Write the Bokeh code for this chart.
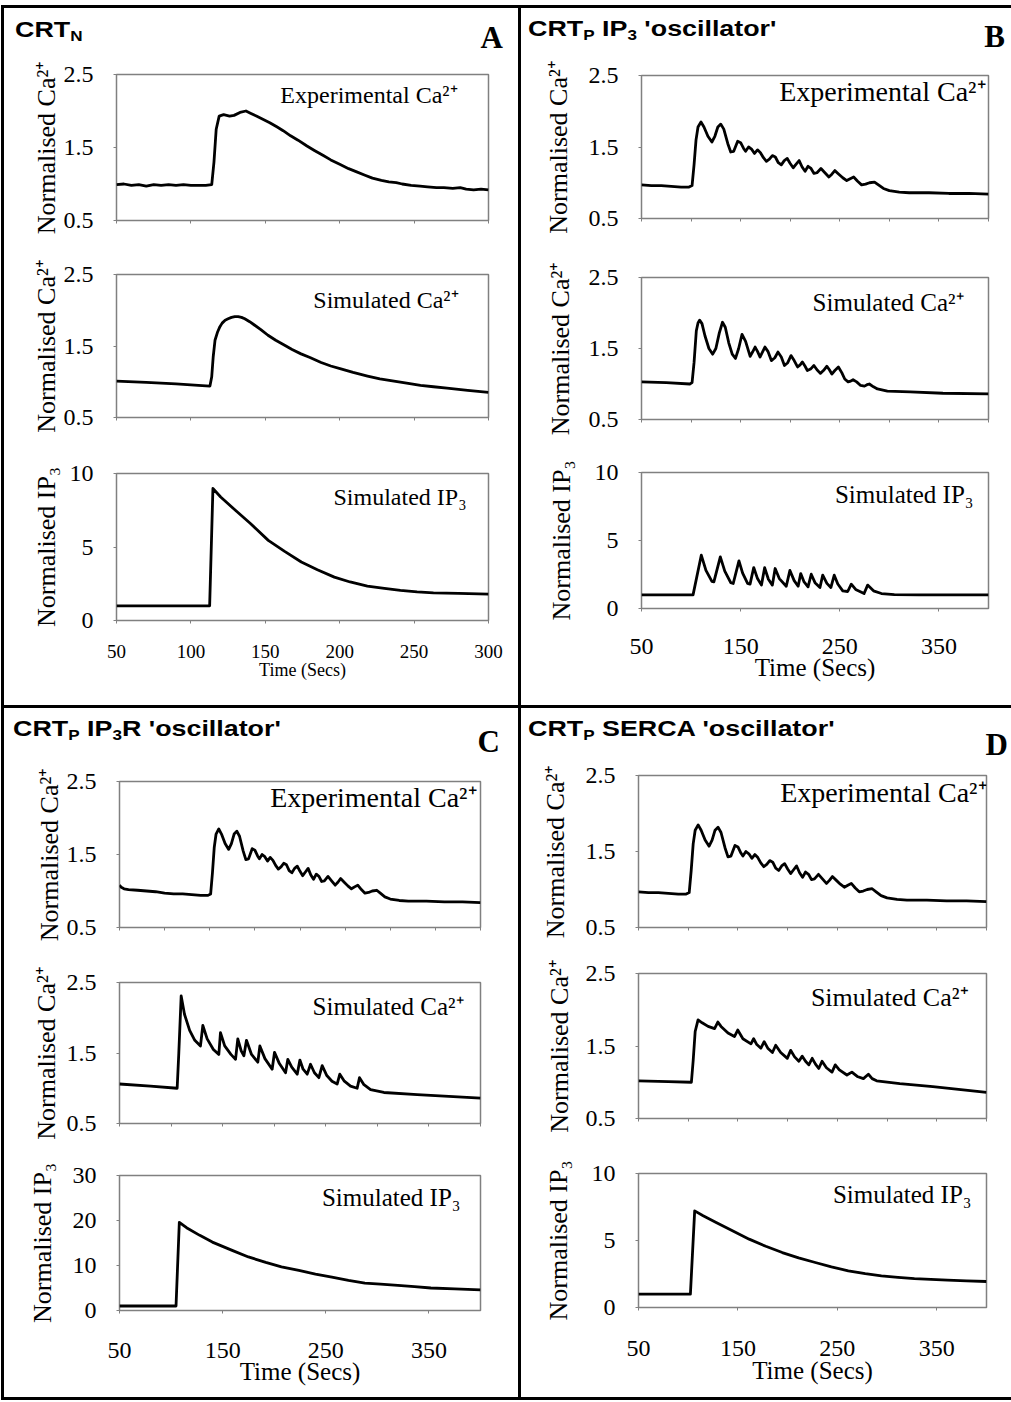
from bokeh.plotting import figure
from bokeh.models import Range1d, FixedTicker, Label, Spacer, Div
from bokeh.layouts import column, row
from bokeh.embed import file_html
from bokeh.resources import INLINE

# ---------------- data ----------------
# Panel A (CRT_N)
tA_exp = [50, 55, 60, 65, 70, 75, 80, 85, 90, 95, 100, 105, 110, 114, 115.5, 117, 119, 122, 126, 129,
          133, 137, 140, 144, 149, 153, 158, 162, 167, 172, 178, 183, 189, 194, 200, 206, 211, 217, 222, 228,
          233, 238, 242, 248, 254, 259, 265, 270, 276, 281, 285, 290, 295, 300]
vA_exp = [0.99, 1.0, 0.98, 0.99, 0.97, 0.99, 0.98, 0.99, 0.98, 0.99, 0.98, 0.98, 0.98, 0.99, 1.3, 1.75, 1.93, 1.95, 1.93, 1.94,
          1.98, 2.0, 1.97, 1.93, 1.88, 1.84, 1.78, 1.73, 1.66, 1.6, 1.52, 1.46, 1.39, 1.33, 1.27, 1.21, 1.17, 1.12, 1.08, 1.05,
          1.03, 1.02, 1.0, 0.98, 0.97, 0.96, 0.95, 0.95, 0.94, 0.95, 0.93, 0.92, 0.93, 0.92]
tA_sim = [50, 70, 90, 105, 112.8, 114, 115, 116.2, 118, 119.5, 121, 123, 125, 127.3, 129.5, 131.8, 134, 136.2, 139.5, 142.9,
          147, 151.8, 157, 163, 168, 174, 180, 187.5, 194, 200.8, 209, 218.7, 227, 236.5, 245, 254.3, 263, 272.1, 286, 300]
vA_sim = [1.01, 0.99, 0.97, 0.95, 0.94, 1.07, 1.35, 1.58, 1.7, 1.77, 1.82, 1.86, 1.88, 1.9, 1.91, 1.91, 1.9, 1.88, 1.84, 1.79,
          1.73, 1.65, 1.58, 1.51, 1.45, 1.39, 1.34, 1.27, 1.22, 1.18, 1.13, 1.08, 1.04, 1.01, 0.98, 0.95, 0.93, 0.91, 0.88, 0.85]
tA_ip3 = [50, 112.6, 114.8, 120, 129.9, 140, 152, 163, 174.2, 185, 196.4, 207, 218.6, 230, 240.8, 252, 263, 280, 300]
vA_ip3 = [1.0, 1.0, 8.98, 8.4, 7.5, 6.6, 5.45, 4.7, 3.98, 3.45, 2.95, 2.62, 2.34, 2.18, 2.05, 1.95, 1.88, 1.84, 1.8]

# Experimental trace used in panels B, C and D
tB_exp = [50, 60, 70, 80, 90, 98, 101, 103, 105, 107, 110, 113, 117, 121, 124, 127, 130, 133, 137, 140,
          143, 147, 150, 153, 155, 158, 161, 164, 167, 170, 173, 176, 179, 182, 185, 188, 191, 194, 197, 200,
          203, 206, 209, 212, 215, 218, 221, 224, 227, 231, 235, 239, 242, 245, 249, 253, 257, 261, 264, 268,
          272, 276, 280, 285, 289, 294, 300, 310, 320, 340, 360, 380, 400]
vB_exp = [0.97, 0.96, 0.96, 0.95, 0.94, 0.94, 0.96, 1.25, 1.6, 1.78, 1.85, 1.78, 1.65, 1.57, 1.65, 1.78, 1.82, 1.75, 1.55, 1.43,
          1.44, 1.58, 1.56, 1.48, 1.44, 1.5, 1.47, 1.41, 1.46, 1.42, 1.35, 1.3, 1.33, 1.38, 1.36, 1.28, 1.25, 1.31, 1.34, 1.27,
          1.21, 1.26, 1.31, 1.22, 1.16, 1.23, 1.2, 1.13, 1.14, 1.2, 1.14, 1.08, 1.12, 1.17, 1.12, 1.07, 1.03, 1.06, 1.08, 1.02,
          0.97, 0.98, 1.0, 1.01, 0.97, 0.92, 0.89, 0.87, 0.86, 0.86, 0.85, 0.85, 0.84]
# Panel C experimental starts at t = 0
tC_pre = [0, 2, 5, 10, 20, 30, 40]
vC_pre = [1.08, 1.05, 1.03, 1.02, 1.01, 1.0, 0.99]

# Panel B (IP3 oscillator)
tB_sim = [50, 75, 98.7, 101, 103, 105.3, 107, 108.6, 111, 114, 118, 121.8, 125, 128.5, 131.7, 134.5, 138, 141.5, 144.8, 148,
          151.4, 155, 159.6, 162, 164.6, 167, 169.5, 172, 174.5, 177.5, 181, 184.5, 187.6, 191, 194.2, 197.5, 200.8, 204, 207.4, 210,
          212.3, 215, 217.3, 220.5, 223.9, 227, 230.4, 233.5, 237, 239.5, 242, 245, 248.6, 252, 255, 258.4, 261, 263.4, 267, 271,
          274.9, 277.5, 279.8, 284, 288, 298, 321, 354, 400]
vB_sim = [1.03, 1.02, 1.0, 1.02, 1.3, 1.75, 1.86, 1.9, 1.85, 1.68, 1.5, 1.42, 1.5, 1.72, 1.87, 1.8, 1.58, 1.42, 1.36, 1.5,
          1.7, 1.6, 1.39, 1.45, 1.52, 1.46, 1.38, 1.45, 1.52, 1.46, 1.33, 1.37, 1.45, 1.38, 1.26, 1.3, 1.4, 1.33, 1.24, 1.27,
          1.31, 1.25, 1.19, 1.21, 1.26, 1.2, 1.15, 1.19, 1.25, 1.2, 1.14, 1.19, 1.24, 1.16, 1.07, 1.03, 1.04, 1.06, 1.03, 0.98,
          0.97, 0.99, 1.0, 0.96, 0.93, 0.9, 0.89, 0.87, 0.86]
tB_ip3 = [50, 102, 110.3, 115, 121, 123, 129.5, 134, 140, 142.5, 148.3, 152, 157, 159.5, 163.2, 167, 171, 174.2, 178, 182,
          184.8, 189, 196, 199.7, 204, 208, 210.6, 214, 218, 221.2, 225, 230, 232.8, 237, 241, 244.4, 248, 253, 258, 261.6,
          266, 274.5, 278.1, 284, 292, 305, 330, 400]
vB_ip3 = [1.0, 1.0, 3.92, 2.8, 2.0, 1.96, 3.8, 2.75, 1.9, 1.84, 3.5, 2.6, 1.85, 1.79, 3.01, 2.2, 1.72, 3.0, 2.15, 1.72,
          2.94, 2.2, 1.64, 2.8, 2.05, 1.64, 2.57, 1.95, 1.59, 2.52, 1.9, 1.54, 2.45, 1.85, 1.54, 2.45, 1.8, 1.3, 1.25, 1.79,
          1.4, 1.1, 1.72, 1.3, 1.1, 1.02, 1.0, 1.0]

# Panel C (IP3R oscillator)
tC_sim = [50, 80, 105.9, 107.5, 109.8, 113, 118, 123, 128.5, 130.8, 135, 141, 146.3, 147.9, 152, 158, 162.5, 164.7, 168, 170.6,
          173.1, 178, 184.1, 186.1, 191, 198, 200.3, 205, 211, 213.2, 217, 222.3, 224.9, 228, 232, 235.2, 239, 243.3, 246.5, 251,
          256, 261, 263.6, 268, 274, 280.4, 282.7, 287, 293.4, 306.3, 338.6, 400]
vC_sim = [1.06, 1.03, 1.0, 1.5, 2.31, 2.05, 1.82, 1.68, 1.6, 1.89, 1.7, 1.55, 1.48, 1.79, 1.6, 1.48, 1.41, 1.7, 1.53, 1.46,
          1.68, 1.48, 1.37, 1.6, 1.42, 1.27, 1.51, 1.35, 1.22, 1.41, 1.3, 1.2, 1.4, 1.27, 1.2, 1.34, 1.22, 1.15, 1.32, 1.18,
          1.1, 1.06, 1.2, 1.1, 1.03, 1.0, 1.15, 1.05, 0.98, 0.94, 0.91, 0.86]
tC_ip3 = [50, 104.8, 108, 115, 127.8, 140, 159.8, 175, 191.8, 207, 223.9, 240, 255.9, 272, 287.9, 303, 319.9, 336, 351.9, 375, 400]
vC_ip3 = [1.0, 1.0, 19.6, 18.4, 16.7, 15.2, 13.3, 11.9, 10.7, 9.7, 8.9, 8.1, 7.4, 6.7, 6.1, 5.85, 5.6, 5.3, 5.0, 4.8, 4.6]

# Panel D (SERCA oscillator)
tD_sim = [50, 80, 103.2, 105, 107, 109.9, 114, 120, 126.5, 129.8, 133, 140, 146.5, 149.8, 155, 163.1, 165.8, 169, 173.1, 176.4,
          180, 184.7, 188, 193, 199.7, 203, 207, 211.3, 214.7, 218, 221.3, 224.7, 228, 231.3, 234.6, 239, 244.6, 247.9, 252, 259.6,
          264.6, 270, 276.2, 281.2, 285, 289.5, 312.8, 346, 400]
vD_sim = [1.02, 1.01, 1.0, 1.3, 1.7, 1.86, 1.82, 1.77, 1.74, 1.83, 1.77, 1.68, 1.63, 1.72, 1.6, 1.53, 1.6, 1.52, 1.47, 1.56,
          1.47, 1.41, 1.51, 1.41, 1.33, 1.44, 1.35, 1.29, 1.36, 1.29, 1.24, 1.33, 1.25, 1.19, 1.29, 1.2, 1.14, 1.24, 1.17, 1.1,
          1.14, 1.08, 1.05, 1.11, 1.05, 1.02, 0.98, 0.94, 0.86]
tD_ip3 = [50, 102.2, 106.5, 115, 128.1, 145, 161.3, 178, 194.6, 211, 227.8, 244, 261, 278, 294.3, 311, 327.5, 344, 360.7, 380, 400]
vD_ip3 = [1.0, 1.0, 7.21, 6.85, 6.34, 5.7, 5.1, 4.57, 4.1, 3.7, 3.36, 3.03, 2.74, 2.53, 2.36, 2.25, 2.16, 2.1, 2.04, 1.99, 1.94]

# ticks
ca_ticks = [0.5, 1.5, 2.5]
ip_ticks = [0, 5, 10]
ip_ticks_c = [0, 10, 20, 30]
xA_ticks = [50, 100, 150, 200, 250, 300]
x_ticks_50 = [50, 100, 150, 200, 250, 300, 350, 400]
xC_top_ticks = [0, 50, 100, 150, 200, 250, 300, 350, 400]
x_ticks_bottom = [50, 150, 250, 350]

# ---------------- styling ----------------
SERIF = "Liberation Serif"
SANS = "Liberation Sans"
GRAY = "#808080"
CA_LABEL = "Normalised Ca\u00b2\u207a"
IP_LABEL = "Normalised IP\u2083"
EXP_NOTE = "Experimental Ca\u00b2\u207a"
SIM_NOTE = "Simulated Ca\u00b2\u207a"
IP_NOTE = "Simulated IP\u2083"


def make_plot(box, frame, xr, yr, xticks, yticks, t, v, ylab, ylab_standoff,
              note, note_size, note_dx, note_dy, bottom=None):
    x0, y0, w, h = box
    L, T, R, B = frame
    p = figure(width=w, height=h, x_range=Range1d(*xr), y_range=Range1d(*yr),
               output_backend="svg", toolbar_location=None, title=None,
               min_border_left=L - x0, min_border_right=x0 + w - R,
               min_border_top=T - y0, min_border_bottom=y0 + h - B)
    p.background_fill_color = "white"
    p.border_fill_color = "white"
    p.outline_line_color = GRAY
    p.outline_line_width = 1.5
    p.xgrid.visible = False
    p.ygrid.visible = False
    p.line(t, v, line_color="black", line_width=2.8, line_join="round")

    ya = p.yaxis[0]
    ya.ticker = FixedTicker(ticks=yticks)
    ya.axis_line_color = None
    ya.major_tick_line_color = GRAY
    ya.major_tick_out = 3
    ya.major_tick_in = 0
    ya.minor_tick_line_color = None
    ya.major_label_standoff = 20
    ya.major_label_text_font = SERIF
    ya.major_label_text_font_size = "24px"
    ya.major_label_text_color = "black"
    ya.axis_label = ylab
    ya.axis_label_text_font = SERIF
    ya.axis_label_text_font_size = "26px"
    ya.axis_label_text_font_style = "normal"
    ya.axis_label_text_color = "black"
    ya.axis_label_standoff = ylab_standoff

    xa = p.xaxis[0]
    xa.ticker = FixedTicker(ticks=xticks)
    xa.axis_line_color = None
    xa.major_tick_line_color = GRAY
    xa.major_tick_out = 3
    xa.major_tick_in = 0
    xa.minor_tick_line_color = None
    if bottom is None:
        xa.major_label_overrides = {k: "" for k in xticks}
        xa.major_label_text_font_size = "8px"
        xa.major_label_standoff = 0
    else:
        xa.major_label_text_font = SERIF
        xa.major_label_text_font_size = f"{bottom['tick_size']}px"
        xa.major_label_text_color = "black"
        xa.major_label_standoff = bottom["tick_standoff"]
        xa.axis_label = "Time (Secs)"
        xa.axis_label_text_font = SERIF
        xa.axis_label_text_font_size = f"{bottom['label_size']}px"
        xa.axis_label_text_font_style = "normal"
        xa.axis_label_text_color = "black"
        xa.axis_label_standoff = bottom["label_standoff"]

    p.add_layout(Label(x=xr[1], y=yr[1], x_offset=-note_dx, y_offset=-note_dy, text=note,
                       text_align="right", text_baseline="alphabetic", text_font=SERIF,
                       text_font_size=f"{note_size}px", text_color="black"))
    return p


def title_div(w, h, left, top, html, letter, right, ltop):
    title = ("<div style=\"position:absolute;left:%dpx;top:%dpx;font-family:'Liberation Sans';"
             "font-weight:bold;font-size:22px;line-height:22px;white-space:nowrap;color:#000;"
             "transform:scaleX(1.22);transform-origin:0 0;\">%s</div>") % (left, top, html)
    let = ("<div style=\"position:absolute;right:%dpx;top:%dpx;font-family:'Liberation Serif';"
           "font-weight:bold;font-size:31px;line-height:31px;white-space:nowrap;color:#000;\">%s</div>") % (right, ltop, letter)
    body = "<div style=\"position:relative;width:%dpx;height:%dpx;background:#fff;overflow:hidden;\">%s%s</div>" % (w, h, title, let)
    return Div(text=body, width=w, height=h, margin=0, styles={"background-color": "white"})


SUB = "<span style=\"font-size:14px;vertical-align:-4px;\">%s</span>"

# ---------------- panel A ----------------
xrA = (50, 300)
tA = title_div(514, 50, 11, 11, "CRT" + SUB % "N", "A", 15, 14)
pA1 = make_plot((4, 58, 514, 189), (116, 74, 489, 220), xrA, (0.5, 2.5), xA_ticks, ca_ticks, tA_exp, vA_exp,
                CA_LABEL, 0, EXP_NOTE, 24, 31, 20)
pA2 = make_plot((4, 247, 514, 198), (114, 274, 488, 417), xrA, (0.5, 2.5), xA_ticks, ca_ticks,
                tA_sim, vA_sim, CA_LABEL, 0, SIM_NOTE, 24, 30, 25)
pA3 = make_plot((4, 445, 514, 260), (113, 473, 489, 620), xrA, (0, 10), xA_ticks, ip_ticks,
                tA_ip3, vA_ip3, IP_LABEL, 6, IP_NOTE, 24, 22, 23,
                bottom=dict(tick_size=19, tick_standoff=21, label_size=18, label_standoff=-1))

# ---------------- panel B ----------------
xrB = (50, 400)
tB = title_div(490, 50, 7, 10, "CRT" + SUB % "P" + " IP" + SUB % "3" + " 'oscillator'", "B", 6, 13)
pB1 = make_plot((521, 58, 490, 190), (638, 75, 993, 218), xrB, (0.5, 2.5), x_ticks_50, ca_ticks, tB_exp, vB_exp,
                CA_LABEL, 13, EXP_NOTE, 28, 3, 16)
pB2 = make_plot((521, 248, 490, 197), (641, 277, 995, 419), xrB, (0.5, 2.5), x_ticks_50, ca_ticks,
                tB_sim, vB_sim, CA_LABEL, 11, SIM_NOTE, 25, 25, 25)
pB3 = make_plot((521, 445, 490, 260), (636, 472, 988, 608), xrB, (0, 10), x_ticks_bottom, ip_ticks,
                tB_ip3, vB_ip3, IP_LABEL, 16, IP_NOTE, 25, 15, 22,
                bottom=dict(tick_size=24, tick_standoff=27, label_size=25, label_standoff=-3))

# ---------------- panel C ----------------
xrC0 = (0, 400)
tC = title_div(514, 54, 9, 10, "CRT" + SUB % "P" + " IP" + SUB % "3" + "R 'oscillator'", "C", 18, 18)
pC1 = make_plot((4, 762, 514, 192), (118, 781, 487, 927), xrC0, (0.5, 2.5), xC_top_ticks, ca_ticks,
                tC_pre + tB_exp, vC_pre + vB_exp, CA_LABEL, 0, EXP_NOTE, 28, 4, 16)
pC2 = make_plot((4, 954, 514, 195), (119, 982, 480, 1123), xrB, (0.5, 2.5), x_ticks_50, ca_ticks,
                tC_sim, vC_sim, CA_LABEL, 3, SIM_NOTE, 25, 17, 24)
pC3 = make_plot((4, 1149, 514, 248), (119, 1175, 483, 1310), xrB, (0, 30), x_ticks_bottom, ip_ticks_c,
                tC_ip3, vC_ip3, IP_LABEL, 13, IP_NOTE, 25, 20, 22,
                bottom=dict(tick_size=24, tick_standoff=29, label_size=25, label_standoff=-3))

# ---------------- panel D ----------------
tD = title_div(490, 54, 7, 10, "CRT" + SUB % "P" + " SERCA 'oscillator'", "D", 3, 21)
pD1 = make_plot((521, 762, 490, 188), (638, 775, 988, 927), xrB, (0.5, 2.5), x_ticks_50, ca_ticks, tB_exp, vB_exp,
                CA_LABEL, 13, EXP_NOTE, 28, 0, 17)
pD2 = make_plot((521, 950, 490, 195), (635, 973, 986, 1118), xrB, (0.5, 2.5), x_ticks_50, ca_ticks,
                tD_sim, vD_sim, CA_LABEL, 9, SIM_NOTE, 26, 18, 24)
pD3 = make_plot((521, 1145, 490, 252), (637, 1173, 988, 1307), xrB, (0, 10), x_ticks_bottom, ip_ticks,
                tD_ip3, vD_ip3, IP_LABEL, 16, IP_NOTE, 25, 15, 21,
                bottom=dict(tick_size=24, tick_standoff=30, label_size=25, label_standoff=-2))


# ---------------- page layout ----------------
def black(w, h):
    return Spacer(width=w, height=h, margin=0, styles={"background-color": "black"})


def white(w, h):
    return Spacer(width=w, height=h, margin=0)


colA = column(tA, pA1, pA2, pA3)
colB = column(tB, pB1, pB2, pB3)
colC = column(tC, pC1, pC2, pC3)
colD = column(tD, pD1, pD2, pD3)

root = column(
    white(1011, 5),
    row(white(1, 3), black(1010, 3)),
    row(white(1, 697), black(3, 697), colA, black(3, 697), colB),
    row(white(1, 3), black(1010, 3)),
    row(white(1, 689), black(3, 689), colC, black(3, 689), colD),
    row(white(1, 3), black(1010, 3)),
)

open("out.html", "w").write(file_html(root, INLINE))
